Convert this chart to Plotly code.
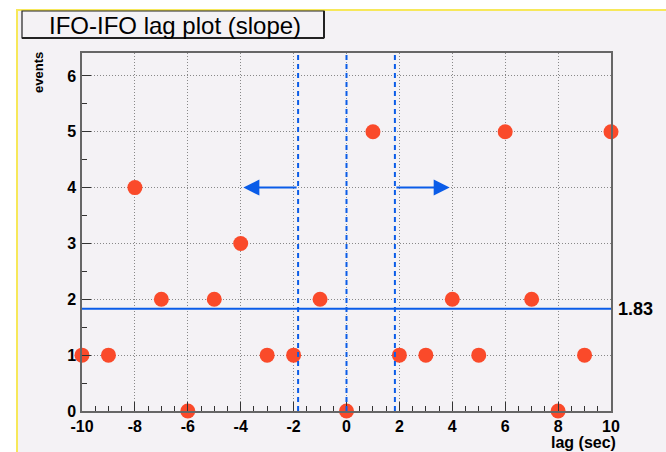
import plotly.graph_objects as go

lags = [-10, -9, -8, -7, -6, -5, -4, -3, -2, -1, 0, 1, 2, 3, 4, 5, 6, 7, 8, 9, 10]
events = [1, 1, 4, 2, 0, 2, 3, 1, 1, 2, 0, 5, 1, 1, 2, 1, 5, 2, 0, 1, 5]
x_tick_vals = [-10, -8, -6, -4, -2, 0, 2, 4, 6, 8, 10]
x_tick_text = ["-10", "-8", "-6", "-4", "-2", "0", "2", "4", "6", "8", "10"]
y_tick_vals = [0, 1, 2, 3, 4, 5, 6]
y_tick_text = ["0", "1", "2", "3", "4", "5", "6"]
mean_level = 1.83
window = 1.83
arrow_y = 4
arrow_len = 2.07

W, H = 666, 452
x0p, x1p, y0p, y1p = 82, 611, 411, 53
BLUE = "#0a5ce8"
RED = "#fa4a2a"
BG = "#f4f2f5"
FONT = "Liberation Sans, Arial"

fig = go.Figure()
fig.add_trace(go.Scatter(x=lags, y=events, mode="markers",
                         marker=dict(color=RED, size=15, line=dict(width=0)),
                         cliponaxis=False, showlegend=False))

axfont = dict(family=FONT, size=16, color="black", weight="bold")
common = dict(ticks="inside", ticklen=9, tickcolor="#333", tickwidth=1,
              showline=True, linecolor="#666", linewidth=1.5, mirror=True,
              showgrid=True, gridcolor="#888", griddash="1px,2px", gridwidth=1,
              zeroline=False, tickfont=axfont, automargin=False, tickmode="array",
              minor=dict(dtick=0.5, ticks="inside", ticklen=5, tickcolor="#333", showgrid=False))
fig.update_layout(
    width=W, height=H, margin=dict(l=0, r=0, t=0, b=0, autoexpand=False),
    paper_bgcolor="white", plot_bgcolor=BG,
    xaxis=dict(domain=[x0p / W, x1p / W], range=[-10, 10], tickvals=x_tick_vals, ticktext=x_tick_text,
               ticklabelstandoff=0, **common),
    yaxis=dict(domain=[1 - y0p / H, 1 - y1p / H], range=[0, 6.41], tickvals=y_tick_vals, ticktext=y_tick_text,
               ticklabelstandoff=1, **common),
)

shapes = [
    dict(type="rect", xref="paper", yref="paper", x0=17 / W, x1=1.05, y0=-0.05, y1=1 - 10 / H,
         fillcolor=BG, line=dict(color="#f7e85a", width=2), layer="below"),
    dict(type="rect", xref="paper", yref="paper", x0=22 / W, x1=324 / W, y0=1 - 38 / H, y1=1 - 11 / H,
         fillcolor=BG, line=dict(color="#222", width=1.2), layer="below"),
    dict(type="line", xref="paper", yref="paper", x0=324 / W, x1=324 / W, y0=1 - 38 / H, y1=1 - 11 / H,
         line=dict(color="#222", width=2)),
    dict(type="line", xref="paper", yref="paper", x0=22 / W, x1=324 / W, y0=1 - 38 / H, y1=1 - 38 / H,
         line=dict(color="#222", width=2)),
    dict(type="line", xref="x", yref="paper", x0=-window, x1=-window, y0=1 - y0p / H, y1=1 - y1p / H,
         line=dict(color=BLUE, width=2, dash="5px,4px")),
    dict(type="line", xref="x", yref="paper", x0=0, x1=0, y0=1 - y0p / H, y1=1 - y1p / H,
         line=dict(color=BLUE, width=2, dash="5px,4px")),
    dict(type="line", xref="x", yref="paper", x0=window, x1=window, y0=1 - y0p / H, y1=1 - y1p / H,
         line=dict(color=BLUE, width=2, dash="5px,4px")),
    dict(type="line", xref="x", yref="y", x0=-10, x1=10, y0=mean_level, y1=mean_level,
         line=dict(color=BLUE, width=2)),
]
fig.update_layout(shapes=shapes)

ann = [
    dict(x=-window - arrow_len, y=arrow_y, ax=-window, ay=arrow_y, xref="x", yref="y", axref="x", ayref="y",
         showarrow=True, arrowhead=2, arrowsize=1.6, arrowwidth=2, arrowcolor=BLUE, text=""),
    dict(x=window + arrow_len, y=arrow_y, ax=window, ay=arrow_y, xref="x", yref="y", axref="x", ayref="y",
         showarrow=True, arrowhead=2, arrowsize=1.6, arrowwidth=2, arrowcolor=BLUE, text=""),
    dict(x=175 / W, y=1 - 25 / H, xref="paper", yref="paper", text="IFO-IFO lag plot (slope)",
         xanchor="center", yanchor="middle", showarrow=False,
         font=dict(family=FONT, size=24, color="black")),
    dict(x=616 / W, y=mean_level, xref="paper", yref="y", text="1.83", xanchor="left", yanchor="middle",
         showarrow=False, font=dict(family=FONT, size=18, color="black", weight="bold")),
    dict(x=618 / W, y=1 - 442 / H, xref="paper", yref="paper", text="lag (sec)", xanchor="right",
         yanchor="middle", showarrow=False, font=dict(family=FONT, size=16, color="black", weight="bold")),
    dict(x=38.5 / W, y=1 - 50 / H, xref="paper", yref="paper", text="events", textangle=-90,
         xanchor="center", yanchor="top", showarrow=False,
         font=dict(family=FONT, size=13, color="black", weight="bold")),
]
fig.update_layout(annotations=ann)

fig.write_html("out.html")
